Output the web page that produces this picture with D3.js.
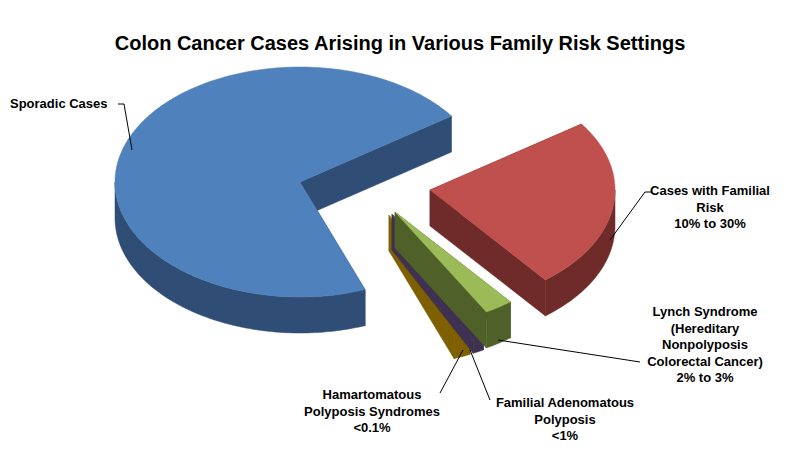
<!DOCTYPE html><html><head><script src="https://cdn.jsdelivr.net/npm/d3@7"></script>
<style>body{margin:0;background:#fff}text{font-family:"Liberation Sans",Arial,sans-serif;font-weight:bold;fill:#000}</style></head><body>
<svg id="c" width="800" height="465"></svg>
<script>
const categories=["Cases with Familial Risk","Lynch Syndrome","Familial Adenomatous Polyposis","Hamartomatous Polyposis Syndromes","Sporadic Cases"];
const values=[24,2.5,1,1.5,71];
const topColors=["#c0504d","#9bbb59","#8064a2","#c6a52a","#4f81bd"];
const sideColors=["#6e2b29","#4f6128","#3f3151","#7f6000","#2f4d75"];
const svg=d3.select("#c");
svg.append("text").attr("x",400).attr("y",50).attr("text-anchor","middle").style("font-size","20px").text("Colon Cancer Cases Arising in Various Family Risk Settings");
const rx=185,ry=115,depth=36;
const pie=d3.pie().sort(null).value(d=>d).startAngle(55*Math.PI/180).endAngle(415*Math.PI/180);
const arcs=pie(values);
const centers=[[430,190],[395,212],[392,214],[389,215],[300,182]];
const P=(c,t,dy=0)=>[c[0]+rx*Math.sin(t),c[1]-ry*Math.cos(t)+dy];
function arcPts(c,a0,a1,dy){const n=Math.max(2,Math.ceil((a1-a0)/0.02));return d3.range(n+1).map(i=>P(c,a0+(a1-a0)*i/n,dy));}
const line=d3.line();
const order=[4,0,3,2,1];
order.forEach(i=>{
  const a=arcs[i],c=centers[i],g=svg.append("g");
  [a.startAngle,a.endAngle].forEach(t=>{const e=P(c,t);
    g.append("path").attr("d",line([c,e,[e[0],e[1]+depth],[c[0],c[1]+depth]])+"Z").attr("fill",sideColors[i]).attr("stroke",sideColors[i]).attr("stroke-width",0.5);});
  const segs=[];for(let k=-1;k<=1;k++){const lo=Math.PI/2+2*Math.PI*k,hi=1.5*Math.PI+2*Math.PI*k;const s=Math.max(lo,a.startAngle),e=Math.min(hi,a.endAngle);if(e>s)segs.push([s,e]);}
  segs.forEach(([s,e])=>{const top=arcPts(c,s,e,0),bot=arcPts(c,s,e,depth).reverse();
    g.append("path").attr("d",line(top.concat(bot))+"Z").attr("fill",sideColors[i]).attr("stroke",sideColors[i]).attr("stroke-width",0.5);});
  g.append("path").attr("d",line([c].concat(arcPts(c,a.startAngle,a.endAngle,0)))+"Z").attr("fill",topColors[i]).attr("stroke",topColors[i]).attr("stroke-width",0.5);
});
function lab(lines,x,y,anchor){const t=svg.append("text").attr("text-anchor",anchor).style("font-size","13px");lines.forEach((l,k)=>t.append("tspan").attr("x",x).attr("y",y+k*16.5).text(l));}
function lead(pts){svg.append("path").attr("d",line(pts)).attr("fill","none").attr("stroke","#000").attr("stroke-width",1);}
lab(["Sporadic Cases"],10,108,"start");lead([[118,104],[124,104],[132,150]]);
lab(["Cases with Familial","Risk","10% to 30%"],710,195,"middle");lead([[652,192],[645,192],[610,240]]);
lab(["Lynch Syndrome","(Hereditary","Nonpolyposis","Colorectal Cancer)","2% to 3%"],705,316,"middle");lead([[640,362],[498,340]]);
lab(["Familial Adenomatous","Polyposis","<1%"],565,407,"middle");lead([[490,400],[470,350]]);
lab(["Hamartomatous","Polyposis Syndromes","<0.1%"],372,399,"middle");lead([[440,393],[463,350]]);
</script></body></html>
